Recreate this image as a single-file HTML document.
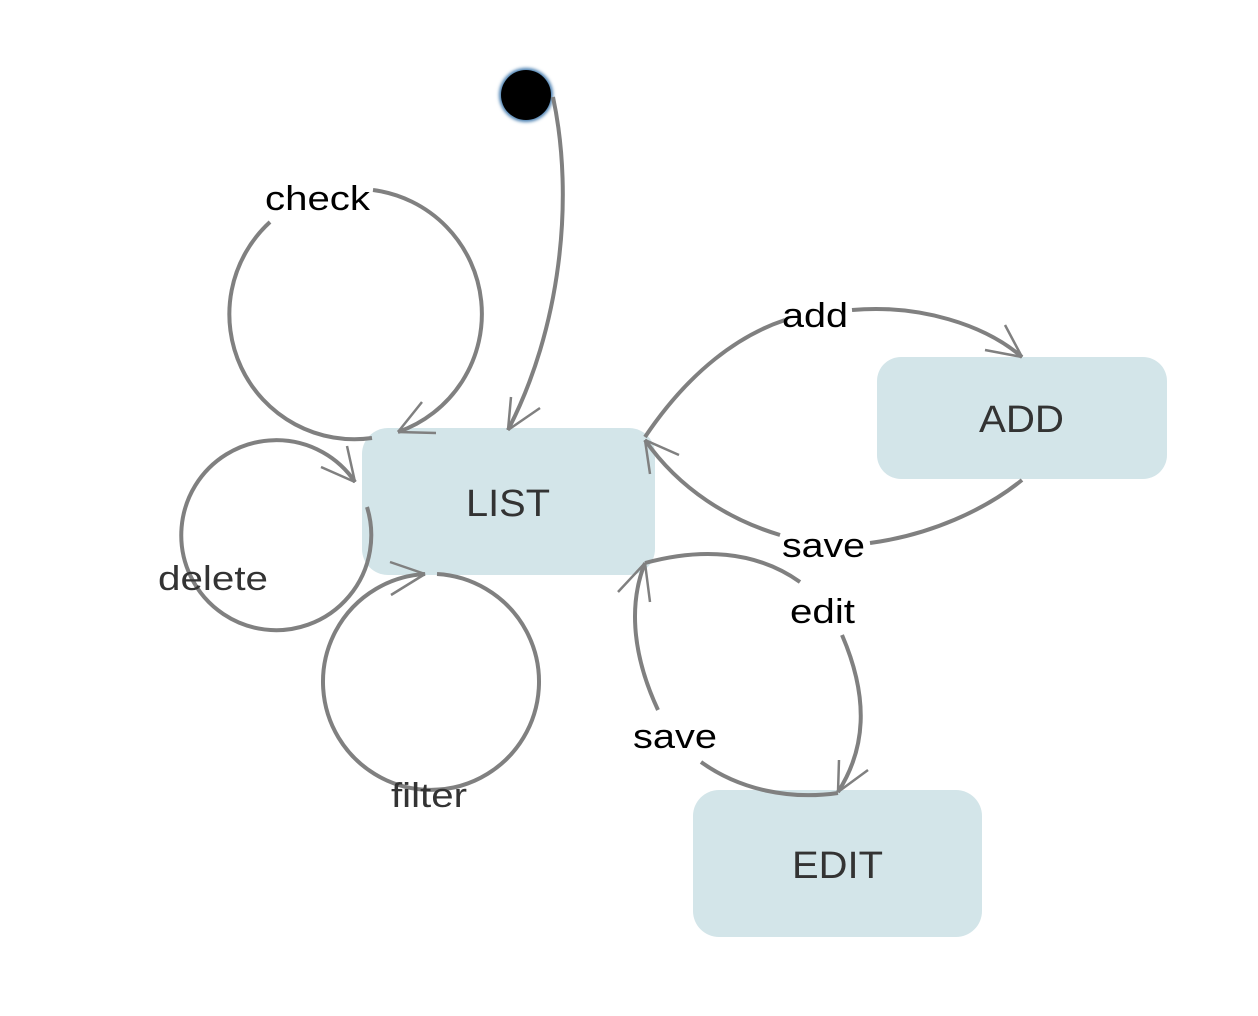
<!DOCTYPE html>
<html><head><style>
html,body{margin:0;padding:0;background:#fff;}
svg{display:block;}
text{font-family:"Liberation Sans",sans-serif;}
</style></head><body>
<svg width="1258" height="1016" viewBox="0 0 1258 1016">
<defs>
<filter id="g" x="-50%" y="-50%" width="200%" height="200%"><feGaussianBlur stdDeviation="1.5"/></filter>
</defs>
<rect x="362" y="428" width="293" height="147" rx="26" fill="#d3e5e9"/>
<rect x="877" y="357" width="290" height="122" rx="24" fill="#d3e5e9"/>
<rect x="693" y="790" width="289" height="147" rx="26" fill="#d3e5e9"/>
<text x="466" y="516" font-size="38" fill="#333" textLength="84" lengthAdjust="spacingAndGlyphs">LIST</text>
<text x="979" y="432" font-size="38" fill="#333" textLength="85" lengthAdjust="spacingAndGlyphs">ADD</text>
<text x="792" y="878" font-size="38" fill="#333" textLength="91" lengthAdjust="spacingAndGlyphs">EDIT</text>
<circle cx="526" cy="95" r="27" fill="#4a7fb0" filter="url(#g)"/>
<circle cx="526" cy="95" r="25" fill="#000"/>
<g fill="none" stroke="#808080" stroke-width="4" stroke-linecap="butt">
<path d="M553,97 C575,200 560,330 508,430"/>
<path d="M508,430 L511,397 M508,430 L540,408" stroke-width="2.5"/>
<!-- check loop -->
<path d="M373,190 A125,125 0 0 1 398,432"/>
<path d="M270,222 A125,125 0 0 0 372,438"/>
<path d="M398,432 L422,402 M398,432 L436,433" stroke-width="2.5"/>
<!-- delete loop -->
<path d="M355,482 A95,95 0 1 0 367,507"/>
<path d="M355,482 L347,446 M355,482 L321,467" stroke-width="2.5"/>
<!-- filter loop -->
<path d="M437,574 A108,108 0 1 1 425,574"/>
<path d="M425,574 L390,562 M425,574 L391,595" stroke-width="2.5"/>
<!-- add -->
<path d="M645,437 C690,370 740,335 785,320"/>
<path d="M852,310 C920,304 985,325 1022,357"/>
<path d="M1022,357 L1005,325 M1022,357 L985,350" stroke-width="2.5"/>
<!-- save add->list -->
<path d="M1022,480 C985,510 930,535 870,543"/>
<path d="M780,535 C730,520 680,490 645,440"/>
<path d="M645,440 L679,455 M645,440 L650,474" stroke-width="2.5"/>
<!-- edit -->
<path d="M645,563 C700,548 755,550 800,582"/>
<path d="M842,635 C870,700 865,750 838,792"/>
<path d="M838,792 L839,760 M838,792 L868,770" stroke-width="2.5"/>
<!-- save edit->list -->
<path d="M701,762 C740,790 790,800 838,793"/>
<path d="M658,710 C630,650 630,600 645,563"/>
<path d="M645,563 L618,592 M645,563 L650,602" stroke-width="2.5"/>
</g>
<g font-size="34" fill="#000" lengthAdjust="spacingAndGlyphs">
<text x="265" y="210" textLength="105" lengthAdjust="spacingAndGlyphs">check</text>
<text x="782" y="327" textLength="66" lengthAdjust="spacingAndGlyphs">add</text>
<text x="782" y="557" textLength="83" lengthAdjust="spacingAndGlyphs">save</text>
<text x="790" y="623" textLength="65" lengthAdjust="spacingAndGlyphs">edit</text>
<text x="633" y="748" textLength="84" lengthAdjust="spacingAndGlyphs">save</text>
</g>
<g font-size="34" fill="#333">
<text x="158" y="590" textLength="110" lengthAdjust="spacingAndGlyphs">delete</text>
<text x="391" y="807" textLength="76" lengthAdjust="spacingAndGlyphs">filter</text>
</g>
</svg>
</body></html>
